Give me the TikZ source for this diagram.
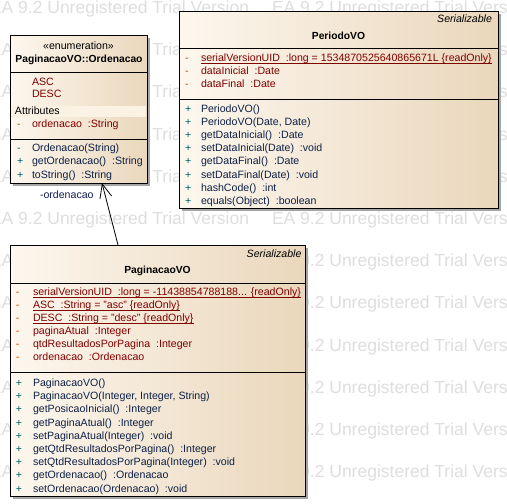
\documentclass[tikz,border=0pt]{standalone}
\usepackage{fontspec}
\setmainfont{Liberation Sans}
\usetikzlibrary{arrows.meta,shadows}
\definecolor{attrc}{RGB}{128,0,0}
\definecolor{attrm}{RGB}{205,70,0}
\definecolor{opc}{RGB}{12,32,70}
\definecolor{opm}{RGB}{0,100,110}
\definecolor{boxl}{RGB}{253,247,238}
\definecolor{boxr}{RGB}{234,215,188}
\definecolor{band}{RGB}{251,242,228}
\definecolor{wm}{RGB}{222,222,222}
\definecolor{shad}{RGB}{165,165,165}
\definecolor{lblc}{RGB}{20,30,90}
\newcommand\rowmx{0}
\newcommand\rowtx{0}
\newcommand\attrrow[3]{%
  \node[txt, text=attrm] (#1m) at (\rowmx,#2) {-};
  \node[txt, text=attrc] (#1) at (\rowtx,#2) {#3};}
\newcommand\oprow[4]{%
  \node[txt, text=opm] (#1m) at (\rowmx,#2) {#3};
  \node[txt, text=opc] (#1) at (\rowtx,#2) {#4};}
\newcommand\ulrow[1]{\draw[attrc, line width=0.8pt] ([yshift=-2pt]#1.base west) -- ([yshift=-2pt]#1.base east);}
\begin{document}
\begin{tikzpicture}[x=1pt,y=-1pt,
  every node/.style={inner sep=0pt, outer sep=0pt, font=\fontsize{10.6}{12}\selectfont},
  txt/.style={anchor=base west},
  classbox/.style={draw=black, line width=0.9pt, left color=boxl, right color=boxr,
    anchor=north west, drop shadow={shadow xshift=3pt, shadow yshift=-3pt, fill=shad, opacity=1}},
  divider/.style={draw=black, line width=0.9pt},
  wmk/.style={anchor=base west, text=wm, font=\fontsize{17.5}{20}\selectfont},
  title/.style={anchor=base, font=\fontsize{10.3}{12}\selectfont\bfseries},
  stereo/.style={anchor=base east, font=\fontsize{10.6}{12}\selectfont\itshape},
  assoc/.style={draw=black, line width=0.8pt, -{Straight Barb[length=14pt,width=12pt,line width=0.8pt]}}]
\useasboundingbox (0,0) rectangle (507,504);
\fill[white] (0,0) rectangle (507,504);
% watermark
\begin{scope}
\clip (0,0) rectangle (507,504);
\foreach \r in {0,...,11} {
  \foreach \c in {0,1} {
    \node[wmk] (wm\r-\c) at (-10+282*\c, 13.5+42.2*\r) {EA 9.2 Unregistered Trial Version};
  }
}
\end{scope}
% boxes
\node[classbox, minimum width=137pt, minimum height=148pt] (r1) at (10,35) {};
\node[classbox, minimum width=319pt, minimum height=197pt] (r2) at (179,11) {};
\node[classbox, minimum width=295pt, minimum height=251pt] (r3) at (10,245) {};
% box 1 : PaginacaoVO::Ordenacao
\draw[divider] ([yshift=-37pt]r1.north west) -- ([yshift=-37pt]r1.north east);
\draw[divider] ([yshift=-104pt]r1.north west) -- ([yshift=-104pt]r1.north east);
\fill[band] (11,106) rectangle (146,117);
\node[anchor=base] (e1) at (78.5,49.5) {«enumeration»};
\node[title] (t1) at (79,62.5) {PaginacaoVO::Ordenacao};
\node[txt, text=attrc] (l1) at (32,85.5) {ASC};
\node[txt, text=attrc] (l2) at (32,97.5) {DESC};
\node[txt] (s1) at (15,114) {Attributes};
\renewcommand\rowmx{17}\renewcommand\rowtx{32}
\attrrow{a11}{127.5}{ordenacao ~:String}
\oprow{o11}{151}{-}{Ordenacao(String)}
\oprow{o12}{164.5}{+}{getOrdenacao() ~:String}
\oprow{o13}{178}{+}{toString() ~:String}
% box 2 : PeriodoVO
\node[stereo] (st2) at (492,22.5) {Serializable};
\node[title] (t2) at (338.5,39) {PeriodoVO};
\draw[divider] ([yshift=-37pt]r2.north west) -- ([yshift=-37pt]r2.north east);
\draw[divider] ([yshift=-88pt]r2.north west) -- ([yshift=-88pt]r2.north east);
\renewcommand\rowmx{185}\renewcommand\rowtx{201}
\attrrow{a21}{61}{serialVersionUID ~:long = 1534870525640865671L \{readOnly\}}
\ulrow{a21}
\attrrow{a22}{74}{dataInicial ~:Date}
\attrrow{a23}{87}{dataFinal ~:Date}
\oprow{o21}{112.5}{+}{PeriodoVO()}
\oprow{o22}{125.6}{+}{PeriodoVO(Date, Date)}
\oprow{o23}{138.7}{+}{getDataInicial() ~:Date}
\oprow{o24}{151.8}{+}{setDataInicial(Date) ~:void}
\oprow{o25}{164.9}{+}{getDataFinal() ~:Date}
\oprow{o26}{178.0}{+}{setDataFinal(Date) ~:void}
\oprow{o27}{191.1}{+}{hashCode() ~:int}
\oprow{o28}{204.2}{+}{equals(Object) ~:boolean}
% box 3 : PaginacaoVO
\node[stereo] (st3) at (301.5,257.5) {Serializable};
\node[title] (t3) at (157.5,273.5) {PaginacaoVO};
\draw[divider] ([yshift=-38pt]r3.north west) -- ([yshift=-38pt]r3.north east);
\draw[divider] ([yshift=-127pt]r3.north west) -- ([yshift=-127pt]r3.north east);
\renewcommand\rowmx{16}\renewcommand\rowtx{33}
\attrrow{a31}{295.3}{serialVersionUID ~:long = -11438854788188... \{readOnly\}}
\ulrow{a31}
\attrrow{a32}{308.4}{ASC ~:String = "asc" \{readOnly\}}
\ulrow{a32}
\attrrow{a33}{321.5}{DESC ~:String = "desc" \{readOnly\}}
\ulrow{a33}
\attrrow{a34}{334.6}{paginaAtual ~:Integer}
\attrrow{a35}{347.7}{qtdResultadosPorPagina ~:Integer}
\attrrow{a36}{360.8}{ordenacao ~:Ordenacao}
\oprow{o31}{386.5}{+}{PaginacaoVO()}
\oprow{o32}{399.7}{+}{PaginacaoVO(Integer, Integer, String)}
\oprow{o33}{412.9}{+}{getPosicaoInicial() ~:Integer}
\oprow{o34}{426.1}{+}{getPaginaAtual() ~:Integer}
\oprow{o35}{439.3}{+}{setPaginaAtual(Integer) ~:void}
\oprow{o36}{452.5}{+}{getQtdResultadosPorPagina() ~:Integer}
\oprow{o37}{465.7}{+}{setQtdResultadosPorPagina(Integer) ~:void}
\oprow{o38}{478.9}{+}{getOrdenacao() ~:Ordenacao}
\oprow{o39}{492.1}{+}{setOrdenacao(Ordenacao) ~:void}
% association
\draw[assoc] ([xshift=108pt]r3.north west) -- ([xshift=92pt]r1.south west);
\node[txt, text=lblc] (lb) at (40,198) {-ordenacao};
\end{tikzpicture}
\end{document}
